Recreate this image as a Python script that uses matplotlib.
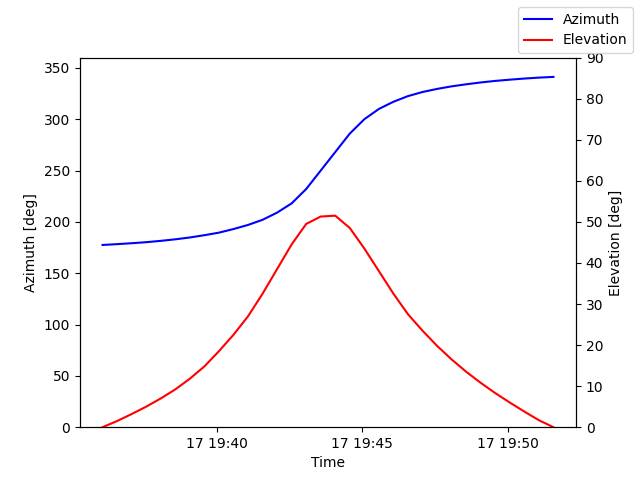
import matplotlib
matplotlib.use("Agg")
import matplotlib.pyplot as plt
import numpy as np
import datetime as dt

azimuth = [177.5, 178.3, 179.2, 180.2, 181.5, 183, 184.8, 187, 189.5, 193, 197, 202, 209, 218, 232, 250,
           268, 286, 300, 310, 317, 322.5, 326.5, 329.5, 332, 334, 335.8, 337.3, 338.5, 339.6, 340.5, 341.2]
elevation = [0, 1.5, 3.2, 5.0, 7.0, 9.2, 11.8, 14.8, 18.5, 22.5, 27.0, 32.5, 38.5, 44.5, 49.5, 51.3,
             51.5, 48.5, 43.5, 38, 32.5, 27.5, 23.5, 19.8, 16.5, 13.5, 10.8, 8.3, 6.0, 3.8, 1.7, 0]
start = dt.datetime(2024, 1, 17, 19, 36, 4)
times = [start + dt.timedelta(seconds=30 * i) for i in range(len(azimuth))]

fig, ax = plt.subplots(figsize=(6.4, 4.8), dpi=100)
l1, = ax.plot(times, azimuth, color='blue', label='Azimuth')
ax.set_ylim(0, 360)
ax.set_ylabel('Azimuth [deg]')
ax.set_xlabel('Time')
ax2 = ax.twinx()
l2, = ax2.plot(times, elevation, color='red', label='Elevation')
ax2.set_ylim(0, 90)
ax2.set_ylabel('Elevation [deg]')
fig.legend(handles=[l1, l2], loc='upper right')
fig.savefig('out.png')
